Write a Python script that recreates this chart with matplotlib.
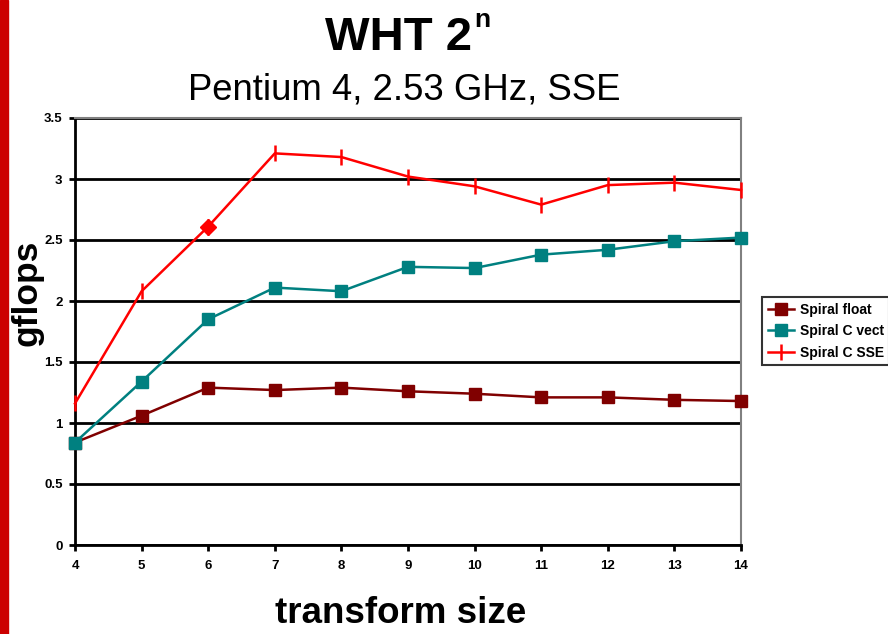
import numpy as np
import matplotlib
matplotlib.use('Agg')
import matplotlib.pyplot as plt
from matplotlib.patches import Rectangle

plt.rcParams['font.family'] = ['Liberation Sans', 'DejaVu Sans']

# data
sizes = [4, 5, 6, 7, 8, 9, 10, 11, 12, 13, 14]
spiral_float = [0.84, 1.06, 1.29, 1.27, 1.29, 1.26, 1.24, 1.21, 1.21, 1.19, 1.18]
spiral_c_vect = [0.84, 1.34, 1.85, 2.11, 2.08, 2.28, 2.27, 2.38, 2.42, 2.49, 2.52]
spiral_c_sse = [1.16, 2.08, 2.61, 3.21, 3.18, 3.02, 2.94, 2.79, 2.95, 2.97, 2.91]
labels = ['Spiral float', 'Spiral C vect', 'Spiral C SSE']

W, H = 888, 634
fig = plt.figure(figsize=(W/100, H/100), dpi=100)
ax = fig.add_axes([75/W, 89/H, 666/W, 427/H])

# red slide bar on the left edge
fig.patches.append(Rectangle((0, 0), 8/W, 1, transform=fig.transFigure,
                             color='#cc0000', zorder=0))

ax.plot(sizes, spiral_float, color='#800000', marker='s', markersize=9,
        lw=1.8, label=labels[0], clip_on=False, zorder=3)
ax.plot(sizes, spiral_c_vect, color='#008080', marker='s', markersize=9,
        lw=1.8, label=labels[1], clip_on=False, zorder=3)
ax.plot(sizes, spiral_c_sse, color='#ff0000', marker='|', markersize=12,
        mew=1.8, lw=1.8, label=labels[2], clip_on=False, zorder=4)
# one point in the SSE series is drawn as a diamond
ax.plot(sizes[2], spiral_c_sse[2], color='#ff0000', marker='D', markersize=8,
        ls='none', zorder=5)

ax.set_xlim(4, 14)
ax.set_ylim(0, 3.5)
ax.set_xticks(sizes)
ax.set_yticks(np.arange(0, 3.51, 0.5))
ax.set_yticklabels(['0', '0.5', '1', '1.5', '2', '2.5', '3', '3.5'])
ax.yaxis.grid(True, color='black', lw=2)
ax.set_axisbelow(True)
for lab in ax.get_xticklabels() + ax.get_yticklabels():
    lab.set_fontweight('bold')
    lab.set_fontsize(9.5)
ax.tick_params(axis='both', direction='out', length=4, width=2)
ax.tick_params(axis='x', pad=7)
ax.tick_params(axis='y', pad=5)

ax.spines['left'].set_linewidth(2)
ax.spines['bottom'].set_linewidth(2)
ax.spines['top'].set_color('#808080')
ax.spines['right'].set_color('#808080')
ax.spines['top'].set_linewidth(1.5)
ax.spines['right'].set_linewidth(1.5)

# axis titles
fig.text(27/W, 1 - 293/H, 'gflops', rotation=90, ha='center', va='center',
         fontsize=25.5, fontweight='bold')
fig.text(401/W, 11/H, 'transform size', ha='center', va='baseline',
         fontsize=26.5, fontweight='bold')

# chart titles
fig.text(325/W, 1 - 50/H, 'WHT 2', ha='left', va='baseline',
         fontsize=34, fontweight='bold')
fig.text(474/W, 1 - 27/H, 'n', ha='left', va='baseline',
         fontsize=19, fontweight='bold')
fig.text(188/W, 1 - 99/H, 'Pentium 4, 2.53 GHz, SSE', ha='left',
         va='baseline', fontsize=26.3)

leg = ax.legend(loc='upper left', bbox_to_anchor=(762/W, 1 - 297/H),
                bbox_transform=fig.transFigure,
                prop={'weight': 'bold', 'size': 10}, frameon=True,
                fancybox=False, edgecolor='black', borderpad=0.4,
                borderaxespad=0, handlelength=1.9, handletextpad=0.4,
                labelspacing=0.55)
leg.get_frame().set_linewidth(1.5)

fig.savefig('out.png', dpi=100)
